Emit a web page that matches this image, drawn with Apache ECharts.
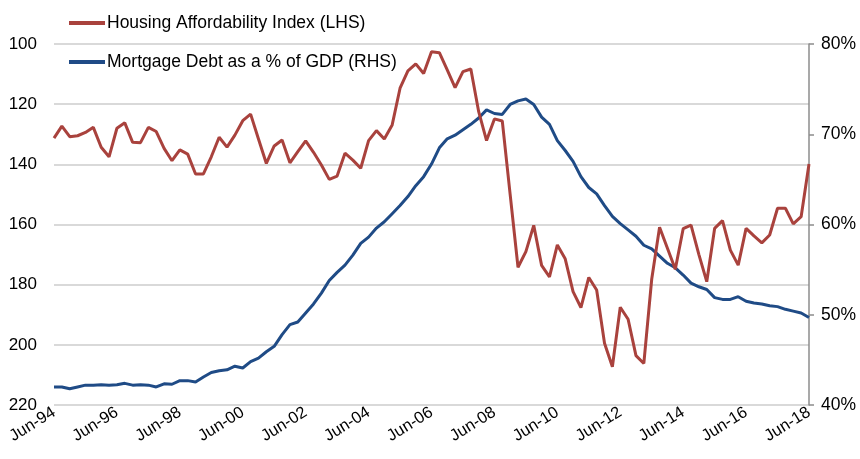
<!DOCTYPE html>
<html>
<head>
<meta charset="utf-8">
<script src="https://cdn.jsdelivr.net/npm/echarts@6/dist/echarts.min.js"></script>
<style>
  html, body { margin: 0; padding: 0; background: #fff; }
  #chart { width: 860px; height: 459px; }
</style>
</head>
<body>
<div id="chart"></div>
<script>
// quarterly, Jun-94 .. Jun-18
var months = ['Mar', 'Jun', 'Sep', 'Dec'];
var quarters = [];
for (var y = 1994; y <= 2018; y++) {
  for (var q = 0; q < 4; q++) {
    if (y === 1994 && q === 0) continue;
    if (y === 2018 && q > 1) continue;
    quarters.push(months[q] + '-' + String(y).slice(2));
  }
}

// Housing Affordability Index (LHS, inverted)
var affordability = [
  131.3, 127.3, 130.8, 130.5, 129.4, 127.7, 134.3, 137.5, 128.0, 126.2,
  132.7, 132.8, 127.7, 129.1, 134.7, 138.8, 135.2, 136.6, 143.2, 143.2,
  137.5, 131.0, 134.3, 130.3, 125.5, 123.3, 131.6, 139.7, 133.9, 131.9,
  139.5, 135.8, 132.2, 136.0, 140.2, 145.0, 143.9, 136.3, 138.6, 141.3,
  132.1, 128.8, 131.6, 126.9, 114.7, 108.9, 106.6, 109.8, 102.6, 102.9,
  108.6, 114.5, 109.2, 108.3, 122.5, 132.1, 124.9, 125.6, 150.0, 174.2,
  169.0, 160.3, 173.6, 177.4, 166.8, 171.4, 182.3, 187.6, 177.6, 181.8,
  199.5, 207.3, 187.5, 191.5, 203.6, 206.2, 178.2, 160.9, 167.9, 174.9,
  161.4, 160.2, 170.0, 179.0, 161.3, 158.7, 168.5, 173.5, 161.3, 163.8,
  166.1, 163.5, 154.6, 154.6, 159.8, 157.4, 139.9
];

// Mortgage debt as a % of GDP (RHS)
var mortgageDebt = [
  42.0, 42.0, 41.8, 42.0, 42.2, 42.2, 42.25, 42.2, 42.25, 42.4,
  42.2, 42.25, 42.2, 42.0, 42.35, 42.3, 42.7, 42.7, 42.55, 43.1,
  43.6, 43.8, 43.9, 44.3, 44.1, 44.8, 45.2, 45.9, 46.5, 47.8,
  48.9, 49.2, 50.2, 51.2, 52.4, 53.8, 54.7, 55.5, 56.6, 57.9,
  58.6, 59.6, 60.3, 61.2, 62.1, 63.1, 64.3, 65.3, 66.7, 68.5,
  69.5, 69.9, 70.5, 71.1, 71.8, 72.7, 72.3, 72.2, 73.3, 73.7,
  73.9, 73.3, 71.9, 71.1, 69.3, 68.2, 67.0, 65.3, 64.1, 63.4,
  62.1, 60.9, 60.1, 59.4, 58.7, 57.7, 57.3, 56.5, 55.7, 55.2,
  54.4, 53.5, 53.1, 52.8, 51.9, 51.7, 51.7, 52.0, 51.5, 51.3,
  51.2, 51.0, 50.9, 50.6, 50.4, 50.2, 49.7
];

var chart = echarts.init(document.getElementById('chart'));
var font = 'Liberation Sans, Arial, sans-serif';

chart.setOption({
  animation: false,
  textStyle: { fontFamily: font, color: '#000' },
  grid: { left: 54, right: 51, top: 44, bottom: 54 },
  legend: {
    orient: 'vertical',
    left: 64,
    top: 9,
    itemGap: 21,
    itemWidth: 36,
    itemHeight: 4,
    icon: 'rect',
    textStyle: { fontSize: 17.5, color: '#000', fontFamily: font, padding: [0, 0, 0, -3] },
    data: ['Housing Affordability Index (LHS)', 'Mortgage Debt as a % of GDP (RHS)']
  },
  xAxis: {
    type: 'category',
    data: quarters,
    boundaryGap: false,
    axisLine: { show: false },
    axisTick: { show: false },
    axisLabel: {
      interval: 7,
      rotate: 32,
      margin: 6,
      fontSize: 16.5,
      color: '#000',
      fontFamily: font
    }
  },
  yAxis: [
    {
      type: 'value',
      inverse: true,
      min: 100,
      max: 220,
      interval: 20,
      axisLine: { show: false },
      axisTick: { show: false },
      axisLabel: { fontSize: 17, color: '#000', margin: 17, fontFamily: font },
      splitLine: { lineStyle: { color: '#cccccc', width: 1.5 } }
    },
    {
      type: 'value',
      min: 40,
      max: 80,
      interval: 10,
      position: 'right',
      axisLine: { show: true, lineStyle: { color: '#8c8c8c', width: 1.5 } },
      axisTick: { show: true, length: 5, lineStyle: { color: '#8c8c8c', width: 1.5 } },
      axisLabel: { fontSize: 17.5, color: '#000', margin: 12, fontFamily: font, formatter: '{value}%' },
      splitLine: { show: false }
    }
  ],
  series: [
    {
      name: 'Housing Affordability Index (LHS)',
      type: 'line',
      yAxisIndex: 0,
      data: affordability,
      showSymbol: false,
      symbol: 'none',
      lineStyle: { color: '#A9423D', width: 3 },
      itemStyle: { color: '#A9423D' },
      z: 3
    },
    {
      name: 'Mortgage Debt as a % of GDP (RHS)',
      type: 'line',
      yAxisIndex: 1,
      data: mortgageDebt,
      showSymbol: false,
      symbol: 'none',
      lineStyle: { color: '#1F4B86', width: 3 },
      itemStyle: { color: '#1F4B86' },
      z: 2
    }
  ]
});
</script>
</body>
</html>
